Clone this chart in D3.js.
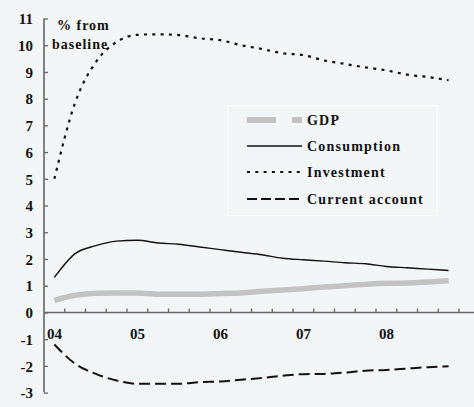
<!DOCTYPE html>
<html>
<head>
<meta charset="utf-8">
<script src="https://cdn.jsdelivr.net/npm/d3@7"></script>
<style>
  html, body { margin: 0; padding: 0; background: #f3f6f7; }
  svg { display: block; }
  text { font-family: "Liberation Serif", "Times New Roman", serif; font-weight: bold; fill: #111; }
</style>
</head>
<body>
<svg id="chart" width="474" height="407"></svg>
<script>
// ---------- data ----------
const quarters = ["04Q1","04Q2","04Q3","04Q4","05Q1","05Q2","05Q3","05Q4",
                  "06Q1","06Q2","06Q3","06Q4","07Q1","07Q2","07Q3","07Q4",
                  "08Q1","08Q2","08Q3","08Q4"];
const yearLabels = ["04","05","06","07","08"];
const yTicks = [-3,-2,-1,0,1,2,3,4,5,6,7,8,9,10,11];

const gdp         = [0.45,0.64,0.72,0.73,0.73,0.68,0.68,0.68,0.71,0.73,0.79,0.84,0.89,0.95,1.00,1.05,1.09,1.10,1.14,1.19];
const consumption = [1.31,2.20,2.50,2.67,2.70,2.60,2.55,2.45,2.35,2.25,2.16,2.03,1.97,1.92,1.86,1.82,1.72,1.67,1.62,1.57];
const investment  = [5.00,7.85,9.37,10.12,10.39,10.41,10.38,10.26,10.19,10.00,9.86,9.70,9.63,9.43,9.30,9.17,9.06,8.90,8.81,8.69];
const currentAcct = [-1.20,-1.92,-2.30,-2.55,-2.67,-2.67,-2.67,-2.61,-2.58,-2.52,-2.45,-2.37,-2.31,-2.30,-2.25,-2.18,-2.15,-2.10,-2.05,-2.01];

const seriesNames = ["GDP","Consumption","Investment","Current account"];

// ---------- chart ----------
const svg = d3.select("#chart");
const x = d3.scaleBand().domain(quarters).range([44, 459]).padding(0);
const y = d3.scaleLinear().domain([-3, 11]).range([392.6, 18.5]);
const cx = q => x(q) + x.bandwidth() / 2;

const styles = {
  "GDP":             { color: "#c3c3c3", width: 5.5, dash: null, legendDash: "29,16" },
  "Consumption":     { color: "#111", width: 1.4, dash: null, legendDash: null },
  "Investment":      { color: "#111", width: 2.2, dash: "3,5.3", legendDash: "3,5.3" },
  "Current account": { color: "#111", width: 2.0, dash: "11,5", legendDash: "10,4" }
};
const dataBy = { "GDP": gdp, "Consumption": consumption, "Investment": investment, "Current account": currentAcct };

// y axis
const yAxis = d3.axisLeft(y).tickValues(yTicks).tickSize(-4).tickPadding(11).tickFormat(d => String(d));
const gy = svg.append("g").attr("transform", "translate(44,0)").call(yAxis);
gy.select(".domain").attr("stroke", "#666").attr("stroke-width", 1.6).attr("d", `M0,${y(11)}V${y(-3)}`);
gy.selectAll(".tick line").attr("stroke", "#666").attr("stroke-width", 1.3);
gy.selectAll(".tick text").style("font-size", "15px").attr("fill", "#111").attr("dy", "0.35em");

// x axis (zero line)
svg.append("line").attr("x1", 44).attr("x2", 474).attr("y1", y(0)).attr("y2", y(0))
  .attr("stroke", "#666").attr("stroke-width", 1.6);
svg.append("g").selectAll("line").data(quarters).join("line")
  .attr("x1", d => x(d) + x.bandwidth()).attr("x2", d => x(d) + x.bandwidth())
  .attr("y1", y(0)).attr("y2", y(0) - 4)
  .attr("stroke", "#666").attr("stroke-width", 1.3);
svg.append("g").selectAll("text").data(yearLabels).join("text")
  .attr("x", d => cx(d + "Q1")).attr("y", 338.5)
  .attr("text-anchor", "middle").style("font-size", "15px").text(d => d);

// lines
const line = d3.line().x((d, i) => cx(quarters[i])).y(d => y(d)).curve(d3.curveMonotoneX);
seriesNames.forEach(name => {
  const s = styles[name];
  svg.append("path").datum(dataBy[name])
    .attr("fill", "none").attr("stroke", s.color).attr("stroke-width", s.width)
    .attr("stroke-dasharray", s.dash).attr("d", line);
});

// unit label
svg.append("text").attr("x", 57).attr("y", 30).style("font-size", "14px").style("letter-spacing", "1px").text("% from");
svg.append("text").attr("x", 52).attr("y", 49).style("font-size", "14px").style("letter-spacing", "1px").text("baseline");

// legend
const lg = svg.append("g");
lg.append("rect").attr("x", 228).attr("y", 105.5).attr("width", 209).attr("height", 110)
  .attr("fill", "#f3f6f7").attr("stroke", "#ffffff").attr("stroke-width", 1);
const legendY = [120, 146, 172, 199];
seriesNames.forEach((name, i) => {
  const s = styles[name];
  lg.append("line").attr("x1", 247).attr("x2", 302).attr("y1", legendY[i]).attr("y2", legendY[i])
    .attr("stroke", s.color).attr("stroke-width", name === "GDP" ? 6 : (name === "Consumption" ? 1.4 : 2))
    .attr("stroke-dasharray", s.legendDash);
  lg.append("text").attr("x", 307).attr("y", legendY[i]).attr("dy", "0.35em")
    .style("font-size", "14px").style("letter-spacing", "1.2px").text(name);
});
</script>
</body>
</html>
